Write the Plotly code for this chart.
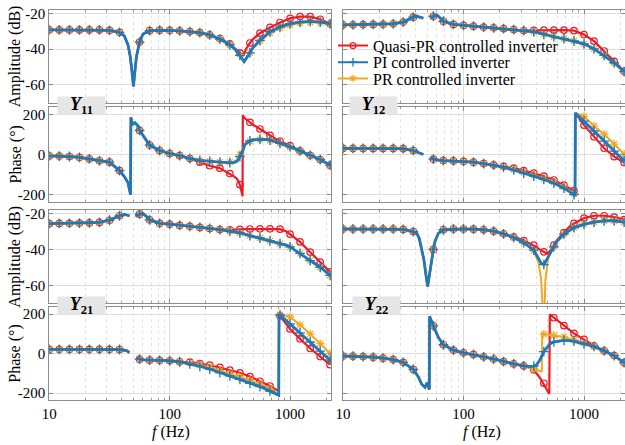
import plotly.graph_objects as go

# ---------------- data ----------------
# marker frequencies (Hz)
MF = [10, 12.1, 14.7, 17.8, 21.5, 26.1, 31.6, 38.3, 56.2, 68.1, 82.5, 100, 121, 147, 178,
      215, 261, 316, 383, 464, 562, 681, 825, 1000, 1210, 1470, 1780, 2150]

# Y11 amplitude (dB)
f_y11_amp = [10, 12.1, 14.7, 17.8, 21.5, 26.1, 31.6, 38.3, 42, 45, 47, 48.5, 50, 51.5, 53, 56.2, 60,
             68.1, 82.5, 100, 121, 147, 178, 215, 261, 316, 350, 383, 405, 415, 430, 464, 493, 562,
             637, 681, 825, 1000, 1210, 1470, 1780, 2150]
qpr_y11_amp = [-29.2, -29.2, -29.2, -29.2, -29.2, -29.2, -29.4, -30.5, -32.5, -37.5, -44, -52, -60.8,
               -52, -44, -36, -31.5, -29.6, -29.3, -29.4, -29.7, -30.1, -30.7, -32, -34, -37, -39.5,
               -42, -43.6, -42.5, -40, -36.5, -34.3, -31, -28.8, -27.8, -25, -22.7, -21.7, -21.7,
               -23.2, -25.7]
pi_y11_amp = [-29.2, -29.2, -29.2, -29.2, -29.2, -29.2, -29.4, -30.5, -32.5, -37.5, -44, -52, -60.8,
              -52, -44, -36, -31.5, -29.6, -29.3, -29.4, -29.7, -30.1, -30.7, -32, -34.3, -37.5,
              -40.2, -43.5, -46.3, -47, -45.5, -42, -39, -35, -31.6, -30.2, -27.5, -25.7, -24.8,
              -24.4, -24.8, -25.7]
pr_y11_amp = [-29.2, -29.2, -29.2, -29.2, -29.2, -29.2, -29.4, -30.5, -32.5, -37.5, -44, -52, -60.8,
              -52, -44, -36, -31.5, -29.6, -29.3, -29.4, -29.7, -30.1, -30.7, -32, -34.3, -37.5,
              -40.2, -43, -45.5, -46, -45, -42, -39.5, -35.5, -32.2, -30.8, -28.2, -26.3, -25.3,
              -24.9, -25.2, -25.9]

# Y11 phase (deg)
f_y11_ph = [10, 12.1, 14.7, 17.8, 21.5, 26.1, 31.6, 38.3, 42, 45, 47.3, 47.6, 49, 51.5, 54, 56.2, 60,
            68.1, 82.5, 100, 121, 147, 178, 215, 261, 316, 340, 360, 370, 383, 395, 403, 405, 421,
            464, 493, 562, 637, 681, 771, 825, 933, 1000, 1130, 1210, 1470, 1780, 2150]
qpr_y11_ph = [-7, -8, -10, -14, -22, -31, -38, -80, -110, -140, -200, 185, 150, 158, 145, 120, 95, 47,
              20, 5, -6, -20, -38, -56, -68, -95, -108, -120, -130, -150, -178, -208, 195, 180,
              160, 148, 127, 105, 95, 75, 66, 52, 44, 26, 18, -4, -25, -53]
pi_y11_ph = [-7, -8, -10, -14, -22, -31, -38, -80, -110, -140, -200, 185, 150, 158, 145, 120, 95, 47,
             20, 5, -6, -20, -29, -34, -38, -40, -40, -35, -27, -10, 5, 15, 18, 50, 68, 74, 76,
             75, 72, 63, 56, 44, 39, 27, 18, -4, -25, -53]
pr_y11_ph = [-7, -8, -10, -14, -22, -31, -38, -80, -110, -140, -200, 185, 150, 158, 145, 120, 95, 47,
             20, 5, -6, -20, -29, -34, -38, -38, -36, -28, -18, 0, 15, 25, 27, 48, 66, 72, 74,
             73, 70, 62, 55, 43, 38, 26, 17, -5, -26, -54]

# Y12 amplitude (dB)
f_y12_amp = [10, 12.1, 14.7, 17.8, 21.5, 26.1, 31.6, 34, 38.3, 40.4, 44, 46.4, 49.5, 53, 56.2, 60, 64,
             68.1, 82.5, 100, 121, 147, 178, 215, 261, 316, 383, 464, 562, 681, 825, 1000, 1210,
             1470, 1780, 2150]
qpr_y12_amp = [-26.4, -26.3, -26.2, -26.1, -26, -25.7, -24.8, -23.6, -22, -21.4, -22, -22.6, None,
               -22.5, -21.5, -20.8, -22.5, -24.3, -26.1, -26.6, -27.1, -27.6, -28, -28.5, -29,
               -29.5, -29.4, -29.3, -29.3, -29.3, -29.6, -31.8, -35.5, -41, -46.8, -52.4]
pi_y12_amp = [-26.4, -26.3, -26.2, -26.1, -26, -25.7, -24.8, -23.6, -22, -21.4, -22, -22.6, None,
              -22.5, -21.5, -20.8, -22.5, -24.3, -26.1, -26.6, -27.1, -27.6, -28, -28.5, -29,
              -29.5, -30.2, -31.6, -32.9, -34, -35.4, -37, -39.8, -43.5, -47.6, -52.6]
pr_y12_amp = [-26.4, -26.3, -26.2, -26.1, -26, -25.7, -24.8, -23.6, -22, -21.4, -22, -22.6, None,
              -22.5, -21.5, -20.8, -22.5, -24.3, -26.1, -26.6, -27.1, -27.6, -28, -28.5, -29,
              -29.5, -30.2, -31.6, -32.9, -34, -35.4, -37, -39.8, -43.5, -47.6, -52.6]

# Y12 phase (deg)
f_y12_ph = [10, 12.1, 14.7, 17.8, 21.5, 26.1, 31.6, 38.3, 41, 46.4, 49.5, 53, 56.2, 60, 68.1, 82.5,
            100, 121, 147, 178, 215, 261, 316, 383, 464, 562, 681, 825, 842, 848, 1000, 1210,
            1470, 1780, 2150]
qpr_y12_ph = [30, 30, 30, 30, 30, 30, 29, 20, 14, 0, None, -17, -23, -27, -30, -32, -34, -38, -45,
              -52, -59, -68, -80, -93, -108, -127, -152, -180, -185, 206, 146, 88, 31, -11, -40]
pi_y12_ph = [30, 30, 30, 30, 30, 30, 29, 20, 14, 0, None, -17, -23, -27, -30, -32, -34, -38, -45,
             -53, -63, -77, -92, -108, -124, -143, -167, -200, -208, 206, 166, 117, 67, 17, -32]
pr_y12_ph = [30, 30, 30, 30, 30, 30, 29, 20, 14, 0, None, -17, -23, -27, -30, -32, -34, -38, -45,
             -53, -63, -75, -89, -104, -120, -138, -162, -195, -205, 206, 190, 142, 101, 52, 2]

# Y21 amplitude (dB)
f_y21_amp = [10, 12.1, 14.7, 17.8, 21.5, 26.1, 31.6, 38.3, 42, 46.4, 48.3, 52, 56.2, 60, 64, 68.1,
             82.5, 100, 121, 147, 178, 215, 261, 316, 383, 464, 562, 681, 825, 933, 1000, 1210,
             1470, 1780, 2150]
qpr_y21_amp = [-25.6, -25.5, -25.4, -25.3, -25.2, -24.9, -23.7, -21.2, -20.5, -21.2, None, -21.5,
               -20.3, -20, -21.5, -23.5, -25.4, -25.9, -26.6, -27.1, -27.7, -28.3, -28.9, -29,
               -28.8, -28.6, -28.5, -28.5, -28.7, -30, -31.5, -35.8, -41.5, -47, -52.5]
pi_y21_amp = [-25.6, -25.5, -25.4, -25.3, -25.2, -24.9, -23.7, -21.2, -20.5, -21.2, None, -21.5,
              -20.3, -20, -21.5, -23.5, -25.4, -25.9, -26.6, -27.1, -27.7, -28.3, -28.9, -29.7,
              -30.8, -32.3, -33.6, -35.2, -36.7, -37.6, -38.6, -42.2, -46.2, -49.9, -54.4]
pr_y21_amp = [-25.6, -25.5, -25.4, -25.3, -25.2, -24.9, -23.7, -21.2, -20.5, -21.2, None, -21.5,
              -20.3, -20, -21.5, -23.5, -25.4, -25.9, -26.6, -27.1, -27.7, -28.3, -28.9, -29.7,
              -30.8, -32.3, -33.6, -35.2, -36.7, -37.6, -38.6, -42.2, -46.2, -49.9, -54.4]

# Y21 phase (deg)
f_y21_ph = [10, 12.1, 14.7, 17.8, 21.5, 26.1, 31.6, 38.3, 43.9, 46.4, 50, 53, 56.2, 60, 68.1, 82.5,
            100, 121, 147, 178, 215, 261, 316, 383, 464, 562, 681, 805, 810, 825, 1000, 1210,
            1470, 1780, 2150]
qpr_y21_ph = [22, 22, 22, 22, 22, 22, 22, 21, 15, 5, None, -22, -28, -32, -33, -34, -36, -41, -43,
              -50, -58, -70, -84, -97, -116, -140, -164, -190, 200, 192, 125, 75, 26, -15, -56]
pi_y21_ph = [22, 22, 22, 22, 22, 22, 22, 21, 15, 5, None, -22, -28, -32, -33, -34, -36, -41, -52,
             -64, -78, -96, -113, -130, -150, -167, -190, -211, 200, 196, 151, 105, 59, 13, -33]
pr_y21_ph = [22, 22, 22, 22, 22, 22, 22, 21, 15, 5, None, -22, -28, -32, -33, -34, -36, -41, -48,
             -58, -70, -86, -102, -118, -136, -155, -178, -205, 200, 198, 186, 146, 100, 51, 1]

# Y22 amplitude (dB)
f_y22_amp = [10, 12.1, 14.7, 17.8, 21.5, 26.1, 31.6, 38.3, 41, 43, 45, 47, 48.5, 50.4, 52.5, 54, 56.2,
             58, 61.8, 68.1, 82.5, 100, 121, 147, 178, 215, 261, 316, 383, 400, 418, 440, 464, 478,
             500, 520, 562, 593, 681, 765, 825, 1000, 1210, 1470, 1780, 2150]
qpr_y22_amp = [-28.6, -28.6, -28.6, -28.6, -28.6, -28.6, -28.8, -30, -31, -34, -39.5, -46, -53,
               -60.6, -53, -46.5, -40, -35.5, -31, -29, -28.6, -28.6, -28.7, -29, -29.8, -31.3,
               -33, -35, -37.6, -38.5, -39.5, -40.5, -41.3, -41.8, -42.2, -41, -37.5, -35, -30.6,
               -27, -25.5, -22.5, -21.2, -21.2, -22, -23.4]
pi_y22_amp = [-28.6, -28.6, -28.6, -28.6, -28.6, -28.6, -28.8, -30, -31, -34, -39.5, -46, -53, -60.6,
              -53, -46.5, -40, -35.5, -31, -29, -28.6, -28.6, -28.7, -29, -29.8, -31.3, -33.3,
              -36.2, -40.4, -42.5, -45, -47.5, -48.5, -47, -44.4, -42, -38.5, -35.6, -31.5, -29,
              -27.8, -26, -24.8, -24, -24, -24.8]
pr_y22_amp = [-28.6, -28.6, -28.6, -28.6, -28.6, -28.6, -28.8, -30, -31, -34, -39.5, -46, -53, -60.6,
              -53, -46.5, -40, -35.5, -31, -29, -28.6, -28.6, -28.7, -29, -29.8, -31.3, -33.3,
              -36.2, -40.8, -43.5, -47, -56, -85, -57, -46, -42.5, -38.5, -35.6, -31.5, -29,
              -27.8, -26, -24.8, -24, -24, -24.8]

# Y22 phase (deg)
f_y22_ph = [10, 12.1, 14.7, 17.8, 21.5, 26.1, 31.6, 38.3, 42, 45, 47.9, 50, 52, 52.3, 56.2, 61.8,
            68.1, 82.5, 100, 121, 147, 178, 215, 261, 316, 350, 383, 405, 430, 446, 450, 464, 505,
            515, 520, 562, 631, 681, 765, 825, 927, 1000, 1122, 1210, 1470, 1780, 2150]
qpr_y22_ph = [-12, -13, -15, -18, -23, -30, -44, -80, -115, -155, -171, -147, -182, 190, 141, 83, 45,
              18, 4, -4, -16, -27, -40, -52, -62, -70, -82, -100, -122, -138, -142, -150, -195,
              -205, 199, 182, 158, 142, 117, 103, 84, 72, 54, 40, 14, -10, -46]
pi_y22_ph = [-12, -13, -15, -18, -23, -30, -44, -80, -115, -155, -171, -147, -182, 190, 141, 83, 45,
             18, 4, -4, -16, -27, -40, -52, -62, -66, -63, -56, -32, -12, -5, 10, 40, 46, 49, 60,
             66, 67, 66, 63, 55, 50, 42, 37, 14, -10, -46]
pr_y22_ph = [-12, -13, -15, -18, -23, -30, -44, -80, -115, -155, -171, -147, -182, 190, 141, 83, 45,
             18, 4, -4, -16, -27, -40, -52, -62, -72, -78, -82, -86, -90, 100, 99, 96, 95, 95, 93,
             90, 85, 75, 70, 60, 52, 43, 37, 14, -10, -46]

series_names = ["Quasi-PR controlled inverter", "PI controlled inverter", "PR controlled inverter"]
panel_labels = ["Y11", "Y12", "Y21", "Y22"]
x_ticks = [10, 100, 1000]
x_minor = [20, 30, 40, 50, 60, 70, 80, 90, 200, 300, 400, 500, 600, 700, 800, 900, 2000]
amp_ticks = [-60, -40, -20]
ph_ticks = [-200, 0, 200]

# ---------------- styling ----------------
W, H = 625, 445
FONT = "Liberation Serif"
COL = {"qpr": "#EE1C25", "pi": "#1F78B8", "pr": "#F0A81E"}
LW = {"qpr": 2.2, "pi": 2.8, "pr": 2.0}
MK = {
    "qpr": dict(symbol="circle-open", size=6.5, line=dict(width=1.2, color=COL["qpr"]), color=COL["qpr"]),
    "pi": dict(symbol="cross-thin-open", size=7, line=dict(width=1.3, color=COL["pi"]), color=COL["pi"]),
    "pr": dict(symbol="asterisk-open", size=7, line=dict(width=1.2, color=COL["pr"]), color=COL["pr"]),
}

# panel layout in pixels (top, bottom) and (left, right)
rows_px = [(10, 102.7), (107.3, 201.7), (210, 303.3), (307.3, 400)]
cols_px = [(49.3, 331), (343, 625)]

panels = [
    # (row, col, freq, qpr, pi, pr, kind)
    (0, 0, f_y11_amp, qpr_y11_amp, pi_y11_amp, pr_y11_amp, "amp"),
    (0, 1, f_y12_amp, qpr_y12_amp, pi_y12_amp, pr_y12_amp, "amp"),
    (1, 0, f_y11_ph, qpr_y11_ph, pi_y11_ph, pr_y11_ph, "ph"),
    (1, 1, f_y12_ph, qpr_y12_ph, pi_y12_ph, pr_y12_ph, "ph"),
    (2, 0, f_y21_amp, qpr_y21_amp, pi_y21_amp, pr_y21_amp, "amp"),
    (2, 1, f_y22_amp, qpr_y22_amp, pi_y22_amp, pr_y22_amp, "amp"),
    (3, 0, f_y21_ph, qpr_y21_ph, pi_y21_ph, pr_y21_ph, "ph"),
    (3, 1, f_y22_ph, qpr_y22_ph, pi_y22_ph, pr_y22_ph, "ph"),
]

MFSET = set(MF)
fig = go.Figure()
layout = dict(
    template="none",
    width=W, height=H, margin=dict(l=0, r=0, t=0, b=0, pad=0, autoexpand=False),
    paper_bgcolor="white", plot_bgcolor="white",
    font=dict(family=FONT, size=15, color="black"),
    showlegend=True,
)

for i, (r, c, F, q, p, pr, kind) in enumerate(panels):
    n = i + 1
    xa = "x" if n == 1 else f"x{n}"
    ya = "y" if n == 1 else f"y{n}"
    for key, vals in (("qpr", q), ("pr", pr), ("pi", p)):
        fig.add_trace(go.Scatter(x=F, y=vals, mode="lines", xaxis=xa, yaxis=ya,
                                 line=dict(color=COL[key], width=LW[key]),
                                 connectgaps=False, showlegend=False, hoverinfo="skip"))
        mx = [f for f, v in zip(F, vals) if f in MFSET and v is not None]
        my = [v for f, v in zip(F, vals) if f in MFSET and v is not None]
        fig.add_trace(go.Scatter(x=mx, y=my, mode="markers", xaxis=xa, yaxis=ya,
                                 marker=MK[key], showlegend=False, hoverinfo="skip"))
    t, b = rows_px[r]
    lft, rgt = cols_px[c]
    xkey = "xaxis" if n == 1 else f"xaxis{n}"
    ykey = "yaxis" if n == 1 else f"yaxis{n}"
    layout[xkey] = dict(
        type="log", range=[1, 3.34], domain=[lft / W, rgt / W], anchor=ya, automargin=False,
        tickmode="array", tickvals=x_ticks, ticktext=[str(v) for v in x_ticks],
        showticklabels=(r == 3), ticks="inside", ticklen=4, tickcolor="#888",
        showline=True, linecolor="#8c8c8c", linewidth=1, mirror="ticks",
        showgrid=True, gridcolor="#dedede", gridwidth=1, zeroline=False,
        tickfont=dict(family=FONT, size=15, color="black"),
        minor=dict(tickmode="array", tickvals=x_minor, ticks="inside", ticklen=2,
                   tickcolor="#999", showgrid=True, gridcolor="#e4e4e4", griddash="dot"),
    )
    if kind == "amp":
        yr, yt = [-70, -18], amp_ticks
    else:
        yr, yt = [-235, 235], ph_ticks
    layout[ykey] = dict(
        range=yr, domain=[1 - b / H, 1 - t / H], anchor=xa, automargin=False,
        tickmode="array", tickvals=yt, ticktext=[str(v) for v in yt],
        showticklabels=(c == 0), ticks="inside", ticklen=4, tickcolor="#888",
        showline=True, linecolor="#8c8c8c", linewidth=1, mirror="ticks",
        showgrid=True, gridcolor="#dedede", gridwidth=1, zeroline=False,
        tickfont=dict(family=FONT, size=15, color="black"),
    )

# legend entries (line + marker), one small legend per row
leg_rows = [45.7, 62.3, 78.5]
for k, (key, name, ly) in enumerate(zip(("qpr", "pi", "pr"), series_names, leg_rows)):
    lname = "legend" if k == 0 else f"legend{k + 1}"
    mk = dict(MK[key])
    mk["size"] = 6
    fig.add_trace(go.Scatter(x=[None], y=[None], mode="lines+markers", name=name,
                             line=dict(color=COL[key], width=2), marker=mk,
                             xaxis="x2", yaxis="y2", showlegend=True, legend=lname))
    layout[lname] = dict(x=333 / W, y=1 - ly / H, xanchor="left", yanchor="middle",
                         bgcolor="rgba(255,255,255,0)", borderwidth=0,
                         font=dict(family=FONT, size=16, color="black"), itemwidth=30)

annotations = []
# panel labels
lab_pos = [(81.5, 105.5), (373.5, 105.5), (81.5, 305.8), (376.5, 305.8)]
for lab, (px, py) in zip(panel_labels, lab_pos):
    annotations.append(dict(
        x=px / W, y=1 - py / H, xref="paper", yref="paper", showarrow=False,
        text=f"<b><i>{lab[0]}</i><sub>{lab[1:]}</sub></b>",
        font=dict(family=FONT, size=18, color="black"),
        bgcolor="#e6e6e6", width=47, height=17, xanchor="center", yanchor="middle",
        borderpad=0))
# axis titles
for (t, b), txt in zip(rows_px, ["Amplitude (dB)", "Phase (°)", "Amplitude (dB)", "Phase (°)"]):
    annotations.append(dict(
        x=15 / W, y=1 - (t + b) / 2 / H, xref="paper", yref="paper", showarrow=False,
        text=txt, textangle=-90, font=dict(family=FONT, size=16, color="black"),
        xanchor="center", yanchor="middle"))
for cx in (171, 482):
    annotations.append(dict(
        x=cx / W, y=1 - 432 / H, xref="paper", yref="paper", showarrow=False,
        text="<i>f</i> (Hz)", font=dict(family=FONT, size=16, color="black"),
        xanchor="center", yanchor="middle"))
layout["annotations"] = annotations

fig.update_layout(**layout)
# remove the page's default 8px body margin so the figure sits at the window origin
fig.write_html("out.html", config={"displayModeBar": False},
               post_script="document.body.style.margin='0px';document.body.style.overflow='hidden';")
